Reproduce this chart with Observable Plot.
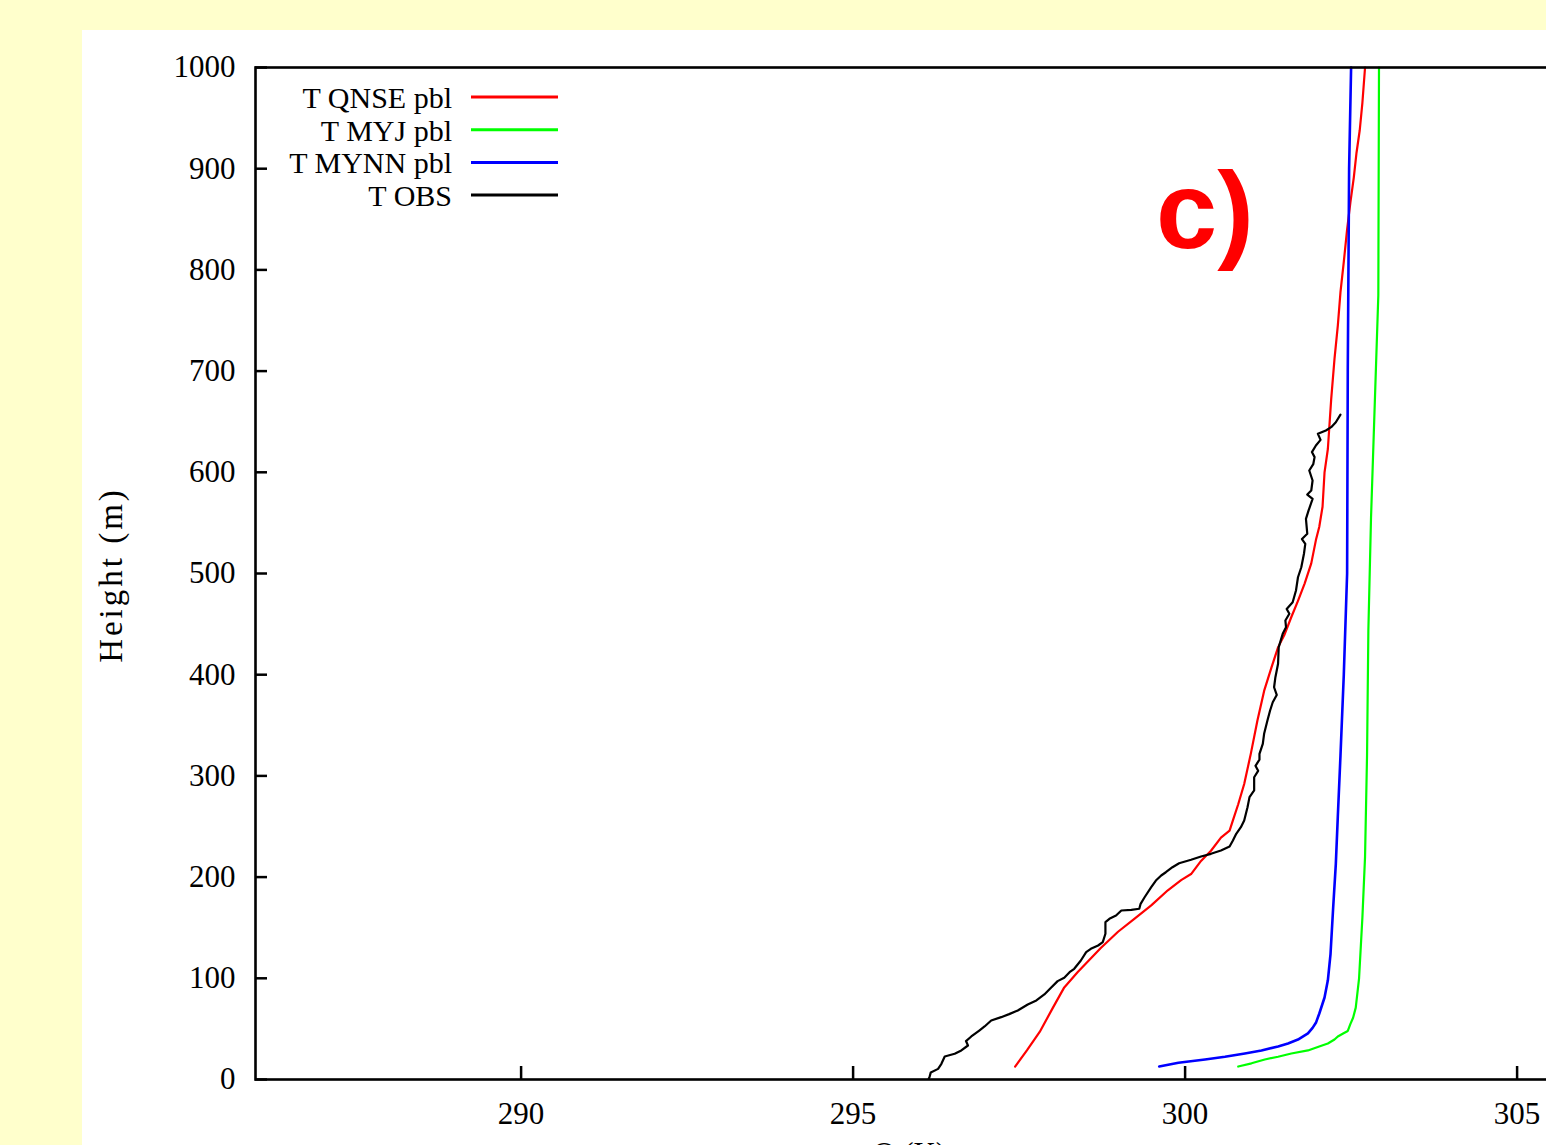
<!DOCTYPE html>
<html><head><meta charset="utf-8">
<script src="https://cdn.jsdelivr.net/npm/d3@7"></script>
<script src="https://cdn.jsdelivr.net/npm/@observablehq/plot@0.6"></script>
<style>
html,body{margin:0;padding:0;overflow:hidden;background:#FFFFCC;width:1546px;height:1145px;}
#panel{position:absolute;left:82px;top:30px;width:1600px;height:1200px;background:#fff;}
#chart{position:absolute;left:0;top:0;}
#overlay{position:absolute;left:0;top:0;pointer-events:none;}
</style>
</head><body>
<div id="panel"><div id="chart"></div><svg id="overlay" width="1521" height="1160"></svg></div>
<script>
// ---- data (height in m, potential temperature in K) ----
const seriesNames = ["T QNSE pbl", "T MYJ pbl", "T MYNN pbl", "T OBS"];
const seriesColors = ["#ff0000", "#00ff00", "#0000ff", "#000000"];

const qnseH = [12.8, 29, 47, 71, 91, 106, 130, 146, 159, 172, 187, 197, 203, 216, 226, 239, 246, 256, 272, 292, 322, 355, 384, 407, 427, 440, 457, 473, 490, 510, 533, 546, 566, 600, 623, 672, 712, 745, 778, 808, 840, 867, 891, 915, 938, 965, 1000];
const qnseT = [297.44, 297.62, 297.81, 298.01, 298.18, 298.38, 298.73, 298.99, 299.24, 299.49, 299.74, 299.94, 300.09, 300.24, 300.39, 300.54, 300.67, 300.72, 300.80, 300.89, 300.99, 301.09, 301.19, 301.30, 301.40, 301.50, 301.60, 301.70, 301.80, 301.90, 301.97, 302.02, 302.07, 302.10, 302.15, 302.20, 302.25, 302.30, 302.34, 302.39, 302.44, 302.49, 302.54, 302.58, 302.63, 302.67, 302.71];

const myjH = [12.8, 16, 19.8, 22.5, 25.7, 28.7, 32.6, 35.6, 39.5, 42.5, 45.5, 48, 55, 61, 71, 100, 160, 220, 320, 444, 555, 655, 775, 1000];
const myjT = [300.80, 301.00, 301.20, 301.40, 301.60, 301.85, 302.02, 302.15, 302.25, 302.30, 302.38, 302.45, 302.49, 302.53, 302.57, 302.62, 302.67, 302.71, 302.74, 302.76, 302.80, 302.85, 302.91, 302.92];

const mynnH = [12.8, 16.6, 19.8, 22.5, 25.7, 28.7, 32.6, 35.6, 39.5, 45.5, 51, 56, 65, 81, 98, 124, 170, 213, 260, 320, 400, 500, 700, 900, 1000];
const mynnT = [299.61, 299.90, 300.30, 300.60, 300.90, 301.15, 301.40, 301.55, 301.70, 301.85, 301.92, 301.97, 302.02, 302.10, 302.15, 302.19, 302.23, 302.27, 302.30, 302.34, 302.39, 302.44, 302.45, 302.47, 302.50];

const obsH = [1, 2.3, 7, 10.5, 15.5, 22.7, 25.4, 28.7, 33.6, 38, 42.5, 48.4, 52.4, 58.3, 61.6, 64.6, 68.2, 74.1, 78.1, 84, 90.6, 97.2, 100.5, 106, 109.4, 117.6, 125.8, 129.1, 132.4, 135.7, 144, 155.5, 158.8, 162, 167, 167.7, 168.7, 173.6, 180.1, 190, 196.6, 201.6, 204.8, 209.8, 213.7, 217.1, 220.4, 223, 226.3, 230.2, 236.2, 242.8, 249.3, 256, 269, 279, 285.6, 292, 298.7, 305, 310, 316, 321.8, 331.7, 341.6, 354.7, 364.6, 372.8, 380, 387.6, 397.5, 410.8, 427.2, 440.4, 447, 453.6, 460.2, 465, 471.6, 483.2, 496.3, 506.2, 519.5, 529.3, 534, 539.2, 554, 562.3, 573.8, 578, 582, 591.9, 601.8, 608, 615, 620, 626.5, 632, 638, 641.3, 644.6, 649.5, 657];
const obsT = [296.14, 296.15, 296.17, 296.28, 296.33, 296.38, 296.53, 296.63, 296.73, 296.70, 296.78, 296.90, 296.98, 297.08, 297.23, 297.35, 297.48, 297.63, 297.76, 297.88, 297.98, 298.08, 298.18, 298.26, 298.33, 298.43, 298.51, 298.58, 298.69, 298.76, 298.80, 298.80, 298.86, 298.96, 299.04, 299.19, 299.31, 299.33, 299.39, 299.49, 299.56, 299.64, 299.71, 299.81, 299.91, 300.09, 300.24, 300.39, 300.54, 300.67, 300.72, 300.77, 300.84, 300.89, 300.94, 300.97, 301.04, 301.04, 301.04, 301.10, 301.06, 301.12, 301.12, 301.17, 301.19, 301.24, 301.28, 301.32, 301.38, 301.34, 301.36, 301.40, 301.41, 301.47, 301.52, 301.51, 301.57, 301.53, 301.62, 301.67, 301.70, 301.75, 301.79, 301.81, 301.76, 301.84, 301.82, 301.86, 301.92, 301.84, 301.90, 301.92, 301.87, 301.93, 301.95, 301.91, 301.97, 302.04, 302.00, 302.12, 302.20, 302.27, 302.34];

const xTicks = [290, 295, 300, 305];
const yTicks = [0, 100, 200, 300, 400, 500, 600, 700, 800, 900, 1000];
const yLabel = "Height (m)";
const xLabel = "Θ (K)";
const panelTag = "c)";

// ---- build ----
const toRows = (H, T) => H.map((h, i) => ({h, T: T[i]}));
const series = [toRows(qnseH, qnseT), toRows(myjH, myjT), toRows(mynnH, mynnT), toRows(obsH, obsT)];

const font = "'Liberation Serif', 'Times New Roman', serif";
const chart = Plot.plot({
  width: 1521,
  height: 1129,
  marginLeft: 173,
  marginTop: 37,
  marginRight: 20,
  marginBottom: 80,
  style: {fontFamily: font, fontSize: "31px", color: "#000", background: "transparent", overflow: "visible"},
  x: {domain: [286, 306]},
  y: {domain: [0, 1000]},
  marks: [
    ...series.map((rows, i) => Plot.line(rows, {x: "T", y: "h", stroke: seriesColors[i], strokeWidth: i === 2 ? 2.6 : 2.2})),
    Plot.axisX({ticks: xTicks, tickSize: -13, tickPadding: 35, strokeWidth: 2.5, label: null, tickFormat: d => String(d)}),
    Plot.axisY({ticks: yTicks, tickSize: -12, tickPadding: 32, strokeWidth: 2.5, label: null, tickFormat: d => String(d)}),
    Plot.frame({stroke: "#000", strokeWidth: 2.6})
  ]
});
document.getElementById("chart").appendChild(chart);

// overlay: legend, axis labels, panel tag
const ov = d3.select("#overlay");
const legendRows = seriesNames.map((name, i) => ({name, color: seriesColors[i], i}));
const lg = ov.append("g").attr("font-family", font).attr("font-size", 30);
lg.selectAll("text").data(legendRows).join("text")
  .attr("x", 370).attr("y", d => 78 + d.i * 32.7)
  .attr("text-anchor", "end").attr("fill", "#000").text(d => d.name);
lg.selectAll("line").data(legendRows).join("line")
  .attr("x1", 389).attr("x2", 476)
  .attr("y1", d => 67 + d.i * 32.7).attr("y2", d => 67 + d.i * 32.7)
  .attr("stroke", d => d.color).attr("stroke-width", 3);

ov.append("text").attr("transform", "translate(40,545) rotate(-90)")
  .attr("text-anchor", "middle").attr("font-family", font).attr("font-size", 33)
  .attr("letter-spacing", 3).attr("fill", "#000").text(yLabel);

ov.append("text").attr("x", 791).attr("y", 1134)
  .attr("text-anchor", "start").attr("font-family", font).attr("font-size", 31)
  .attr("fill", "#000").text(xLabel);

ov.append("text").attr("x", 1074).attr("y", 218)
  .attr("font-family", "'Liberation Sans', Arial, sans-serif").attr("font-weight", "bold")
  .attr("font-size", 110).attr("fill", "#ff0000").text(panelTag);
</script>
</body></html>
